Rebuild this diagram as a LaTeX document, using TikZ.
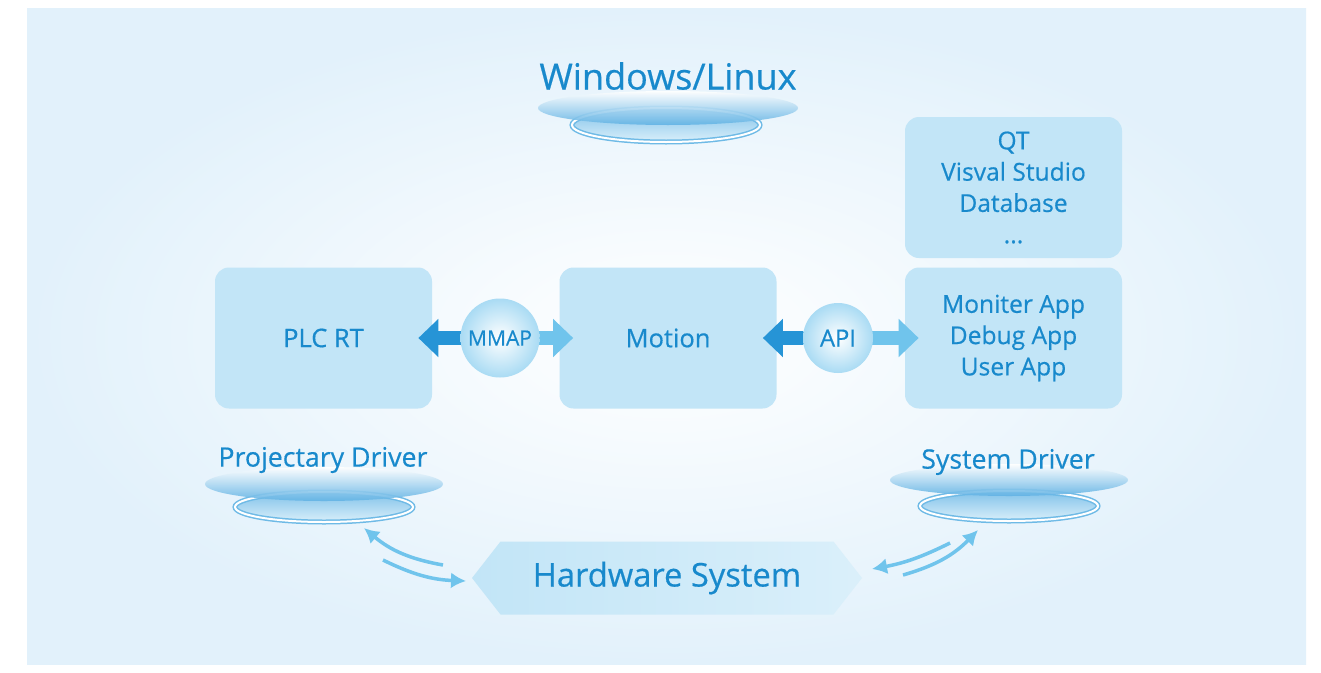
\documentclass[tikz,border=0pt]{standalone}
\usepackage{fontspec}
\setmainfont{Open Sans}[FakeBold=0.5]
\usetikzlibrary{positioning, arrows.meta, shapes.geometric, shapes.symbols}

\definecolor{txtblue}{RGB}{24,137,204}
\definecolor{boxblue}{RGB}{194,229,247}
\definecolor{bgblue}{RGB}{226,241,251}
\definecolor{arrdark}{RGB}{38,148,214}
\definecolor{arrlight}{RGB}{112,196,236}
\definecolor{discblue}{RGB}{96,178,228}
\definecolor{ringblue}{RGB}{110,186,230}

\begin{document}
\begin{tikzpicture}[
    x=0.2mm, y=-0.2mm,
    font=\fontsize{14.5}{17.8}\selectfont,
    box/.style={rectangle, rounded corners=2.8mm, fill=boxblue, text=txtblue,
                minimum width=43.4mm, minimum height=28.2mm, align=center},
    ball/.style={circle, inner color=white, outer color=boxblue!70!arrlight,
                 text=txtblue, inner sep=0pt},
    fat/.style={line width=2.8mm, shorten >=-2.8mm, -{Triangle[length=4mm, width=7.4mm]}},
    plattext/.style={text=txtblue, font=\fontsize{15.2}{18}\selectfont},
    ring/.style={ellipse, draw=ringblue, line width=0.3mm, double=white, double distance=0.4mm,
                 top color=discblue!80, bottom color=boxblue!60, minimum width=35.6mm, minimum height=6mm},
    disc/.style={top color=white, bottom color=discblue, opacity=0.9},
    hexa/.style={signal, signal to=west and east, signal pointer angle=104,
                 left color=boxblue, right color=boxblue!60, text=txtblue,
                 minimum width=78mm, minimum height=14.6mm, font=\fontsize{18.6}{20}\selectfont},
    swoosh/.style={line width=0.7mm, draw=arrlight, -{Latex[length=3mm, width=3.2mm]}}
]

% --- Fondo ---
\fill[white] (0,0) rectangle (1321,672);
\shade[inner color=white, outer color=bgblue] (27,8) rectangle (1306,664);
\useasboundingbox (0,0) rectangle (1321,672);

% --- Plataforma superior ---
\node[ring, minimum width=37.6mm, minimum height=6.8mm] (osring) at (666,125) {};
\shade[disc] (668,108) ellipse [x radius=130, y radius=17];
\node[plattext, font=\fontsize{20.5}{22}\selectfont] (os) at (668,76) {Windows/Linux};

% --- Cajas ---
\node[box] (plc) at (323.5,338) {PLC RT};
\node[box] (motion) at (668,338) {Motion};
\node[box, font=\fontsize{14}{17.8}\selectfont] (apps) at (1013.5,338) {Moniter App\\Debug App\\User App};
\node[box, font=\fontsize{14}{17.8}\selectfont] (tools) at (1013.5,187.5) {QT\\Visval Studio\\Database\\...};

% --- Flechas gruesas ---
\coordinate (mmapc) at (500,338);
\coordinate (apic) at (838,338);
\draw[fat, arrdark] (mmapc) -- (plc);
\draw[fat, arrlight] (mmapc) -- (motion);
\draw[fat, arrdark] (apic) -- (motion);
\draw[fat, arrlight] (apic) -- (apps);
\node[ball, minimum size=15.8mm, font=\fontsize{12}{13}\selectfont] (mmap) at (mmapc) {MMAP};
\node[ball, minimum size=14mm, font=\fontsize{13.5}{15}\selectfont] (api) at (apic) {API};

% --- Drivers ---
\node[ring] (projring) at (324,507) {};
\shade[disc] (324,484) ellipse [x radius=119, y radius=17];
\node[plattext] (proj) at (323,460) {Projectary Driver};

\node[ring] (sysring) at (1009,506) {};
\shade[disc] (1009,480) ellipse [x radius=119, y radius=16];
\node[plattext] (sys) at (1008,462) {System Driver};

% --- Hardware ---
\node[hexa] (hw) at (667,578) {Hardware System};

% --- Flechas curvas ---
\coordinate (l1) at (443,565);
\coordinate (l2) at (364,528);
\coordinate (l3) at (383,560);
\coordinate (l4) at (466,581);
\coordinate (r1) at (950,543);
\coordinate (r2) at (872,569);
\coordinate (r3) at (903,575);
\coordinate (r4) at (978,530);
\draw[swoosh] (l1) to[bend left=15] (l2);
\draw[swoosh] (l3) to[bend right=12] (l4);
\draw[swoosh] (r1) to[bend left=8] (r2);
\draw[swoosh] (r3) to[bend right=15] (r4);

\end{tikzpicture}
\end{document}
